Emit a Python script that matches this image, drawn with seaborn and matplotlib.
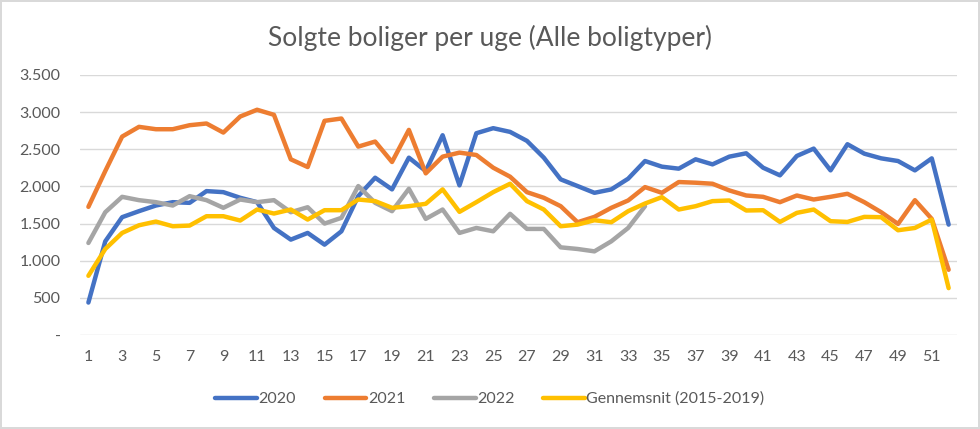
import numpy as np
import pandas as pd
import seaborn as sns
from matplotlib import pyplot as plt
from matplotlib.ticker import FuncFormatter

# weeks and sold homes per week
weeks = list(range(1, 53))

sales_2020 = [437, 1261, 1586, 1667, 1743, 1788, 1779, 1937, 1923, 1847,
              1788, 1441, 1284, 1374, 1216, 1396, 1870, 2117, 1960, 2387,
              2207, 2689, 2014, 2716, 2784, 2734, 2613, 2387, 2095, 2005,
              1914, 1960, 2104, 2342, 2266, 2239, 2365, 2297, 2401, 2446,
              2252, 2149, 2410, 2509, 2216, 2568, 2441, 2378, 2342, 2216,
              2378, 1486]

sales_2021 = [1725, 2207, 2671, 2802, 2770, 2770, 2824, 2847, 2725, 2941,
              3032, 2964, 2365, 2261, 2883, 2914, 2536, 2604, 2329, 2761,
              2176, 2401, 2455, 2423, 2252, 2131, 1923, 1847, 1734, 1518,
              1590, 1712, 1811, 1991, 1914, 2059, 2050, 2036, 1946, 1878,
              1860, 1788, 1878, 1824, 1860, 1901, 1788, 1653, 1495, 1815,
              1563, 878]

sales_2022 = [1239, 1653, 1860, 1815, 1788, 1743, 1869, 1815, 1712, 1824,
              1788, 1815, 1653, 1720, 1500, 1577, 2005, 1779, 1667, 1968,
              1563, 1689, 1374, 1441, 1396, 1631, 1428, 1428, 1180, 1158,
              1126, 1261, 1441, 1734]

sales_avg = [797, 1158, 1374, 1477, 1527, 1464, 1473, 1599, 1599, 1541,
             1689, 1635, 1689, 1554, 1680, 1680, 1824, 1802, 1712, 1734,
             1766, 1960, 1658, 1788, 1923, 2036, 1802, 1689, 1464, 1486,
             1545, 1518, 1667, 1770, 1856, 1689, 1734, 1802, 1811, 1676,
             1680, 1522, 1644, 1689, 1532, 1522, 1590, 1586, 1410, 1441,
             1554, 631]

series_names = ['2020', '2021', '2022', 'Gennemsnit (2015-2019)']
series_colors = ['#4472C4', '#ED7D31', '#A5A5A5', '#FFC000']

frames = []
for name, vals in zip(series_names, [sales_2020, sales_2021, sales_2022, sales_avg]):
    frames.append(pd.DataFrame({'uge': weeks[:len(vals)], 'solgte': vals, 'serie': name}))
df = pd.concat(frames, ignore_index=True)

sns.set_style('white')
plt.rcParams['font.family'] = ['Lato', 'DejaVu Sans']

fig = plt.figure(figsize=(9.8, 4.29), dpi=100)
fig.patch.set_edgecolor('#D9D9D9')
fig.patch.set_linewidth(1.5)
ax = fig.add_axes([0.0816, 0.2191, 0.895, 0.6061])

sns.lineplot(data=df, x='uge', y='solgte', hue='serie', hue_order=series_names,
             palette=series_colors, linewidth=3.2, ax=ax, legend=True)
for line in ax.get_lines():
    line.set_solid_joinstyle('round')
    line.set_solid_capstyle('round')

ax.set_xlim(0.5, 52.5)
ax.set_ylim(0, 3500)
ax.set_yticks(np.arange(0, 3501, 500))
ax.yaxis.set_major_formatter(FuncFormatter(
    lambda v, p: '-' if v == 0 else f'{int(v):,}'.replace(',', '.')))
ax.set_xticks(weeks[::2])
ax.grid(axis='y', color='#D9D9D9', linewidth=1)
ax.set_axisbelow(True)
for s in ax.spines.values():
    s.set_visible(False)
ax.tick_params(axis='both', length=0, labelsize=11.5, labelcolor='#595959')
ax.tick_params(axis='y', pad=14)
ax.tick_params(axis='x', pad=11)
ax.set_xlabel('')
ax.set_ylabel('')

fig.text(0.5, 0.912, 'Solgte boliger per uge (Alle boligtyper)', ha='center', va='center',
         fontsize=19, color='#595959')

handles, labels = ax.get_legend_handles_labels()
ax.legend(handles, labels, loc='center', bbox_to_anchor=(0.5, 0.07),
          bbox_transform=fig.transFigure, ncol=4, frameon=False,
          fontsize=11.5, labelcolor='#595959', handlelength=2.6,
          handletextpad=0.1, columnspacing=1.8)

fig.savefig('out.png', dpi=100)
